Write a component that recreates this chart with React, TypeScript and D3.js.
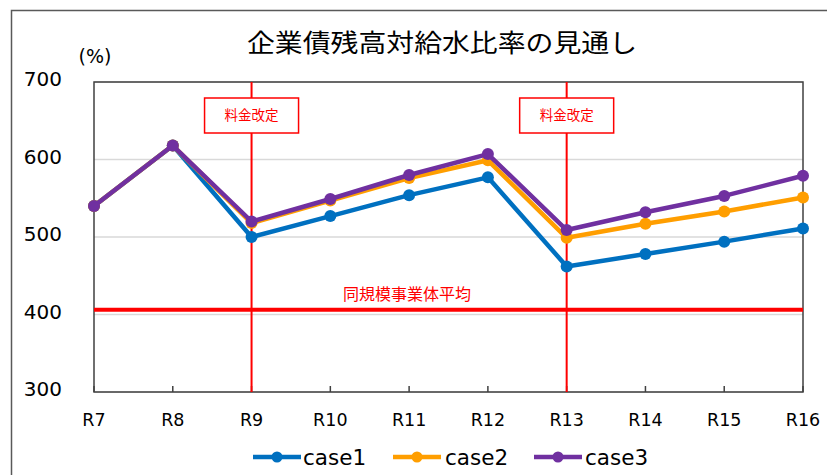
import React from "react";
import * as d3 from "d3";

const categories = ["R7", "R8", "R9", "R10", "R11", "R12", "R13", "R14", "R15", "R16"];
const case1 = [540, 618, 500, 527, 554, 577, 462, 478, 494, 511];
const case2 = [540, 618, 518, 547, 576, 599, 499, 517, 533, 551];
const case3 = [540, 618, 520, 549, 580, 607, 509, 532, 553, 579];
const seriesNames = ["case1", "case2", "case3"];
const seriesColors = ["#0070C0", "#FF9E00", "#7030A0"];
const yTicks = [300, 400, 500, 600, 700];
const averageValue = 406;
const averageLabel = "同規模事業体平均";
const revisionCategories = ["R9", "R13"];
const revisionLabel = "料金改定";
const title = "企業債残高対給水比率の見通し";
const unitLabel = "(%)";

const W = 827;
const H = 475;
const plot = { left: 94, right: 803, top: 82, bottom: 392 };

export default function App() {
  const x = d3.scalePoint<string>().domain(categories).range([plot.left, plot.right]);
  const y = d3.scaleLinear().domain([300, 700]).range([plot.bottom, plot.top]);
  const line = d3
    .line<number>()
    .x((_, i) => x(categories[i]) as number)
    .y((d) => y(d));
  const allSeries = [case1, case2, case3];
  const fontLatin = "'DejaVu Sans', Verdana, sans-serif";
  const fontCJK = "'Noto Sans CJK JP', sans-serif";

  const legendItems = [
    { x0: 253, tx: 303 },
    { x0: 393, tx: 445 },
    { x0: 534, tx: 585 },
  ];

  return (
    <svg
      width={W}
      height={H}
      style={{ position: "absolute", left: 0, top: 0, background: "#fff" }}
    >
      <rect x={0} y={0} width={W} height={H} fill="#fff" />
      {/* outer chart frame */}
      <path d={`M11.5,${H + 2} V10.5 H${W + 2}`} fill="none" stroke="#595959" strokeWidth={1.5} />
      {/* title */}
      <text
        x={442}
        y={52}
        textAnchor="middle"
        fontFamily={fontCJK}
        fontSize={25}
        textLength={390}
        lengthAdjust="spacingAndGlyphs"
        fill="#000"
      >
        {title}
      </text>
      <text x={95} y={63} textAnchor="middle" fontFamily={fontLatin} fontSize={19} fill="#000">
        {unitLabel}
      </text>
      {/* gridlines */}
      {yTicks.map((t) => (
        <line
          key={t}
          x1={plot.left}
          x2={plot.right}
          y1={y(t)}
          y2={y(t)}
          stroke="#d9d9d9"
          strokeWidth={1.5}
        />
      ))}
      {/* y tick labels */}
      {yTicks.map((t) => (
        <text
          key={"l" + t}
          x={62}
          y={y(t)}
          dy="0.2em"
          textAnchor="end"
          fontFamily={fontLatin}
          fontSize={20}
          fill="#000"
        >
          {t}
        </text>
      ))}
      {/* plot frame */}
      <rect
        x={plot.left}
        y={plot.top}
        width={plot.right - plot.left}
        height={plot.bottom - plot.top}
        fill="none"
        stroke="#404040"
        strokeWidth={1.5}
      />
      {/* x ticks */}
      {categories.map((c) => (
        <line
          key={"t" + c}
          x1={x(c)}
          x2={x(c)}
          y1={plot.bottom}
          y2={plot.bottom - 6}
          stroke="#404040"
          strokeWidth={1.5}
        />
      ))}
      {/* x labels */}
      {categories.map((c) => (
        <text
          key={"x" + c}
          x={x(c)}
          y={426}
          textAnchor="middle"
          fontFamily={fontLatin}
          fontSize={17.5}
          fill="#000"
        >
          {c}
        </text>
      ))}
      {/* average line */}
      <line
        x1={plot.left}
        x2={plot.right}
        y1={y(averageValue)}
        y2={y(averageValue)}
        stroke="#FF0000"
        strokeWidth={4}
      />
      <text
        x={407}
        y={300}
        textAnchor="middle"
        fontFamily={fontCJK}
        fontSize={16}
        fill="#FF0000"
      >
        {averageLabel}
      </text>
      {/* revision lines */}
      {revisionCategories.map((c) => (
        <g key={"r" + c}>
          <line
            x1={x(c)}
            x2={x(c)}
            y1={plot.top}
            y2={plot.bottom}
            stroke="#FF0000"
            strokeWidth={2}
          />
          <rect
            x={(x(c) as number) - 47}
            y={98}
            width={94}
            height={35}
            fill="#fff"
            stroke="#FF0000"
            strokeWidth={1.5}
          />
          <text
            x={x(c)}
            y={115.5}
            dy="0.35em"
            textAnchor="middle"
            fontFamily={fontCJK}
            fontSize={13.5}
            fill="#FF0000"
          >
            {revisionLabel}
          </text>
        </g>
      ))}
      {/* series */}
      {allSeries.map((s, si) => (
        <g key={"s" + si}>
          <path
            d={line(s) as string}
            fill="none"
            stroke={seriesColors[si]}
            strokeWidth={4.5}
            strokeLinejoin="round"
          />
          {s.map((v, i) => (
            <circle
              key={i}
              cx={x(categories[i])}
              cy={y(v)}
              r={6}
              fill={seriesColors[si]}
            />
          ))}
        </g>
      ))}
      {/* legend */}
      {seriesNames.map((n, i) => (
        <g key={"lg" + n}>
          <line
            x1={legendItems[i].x0}
            x2={legendItems[i].x0 + 48}
            y1={457}
            y2={457}
            stroke={seriesColors[i]}
            strokeWidth={4.5}
          />
          <circle cx={legendItems[i].x0 + 24} cy={457} r={5.5} fill={seriesColors[i]} />
          <text
            x={legendItems[i].tx}
            y={457}
            dy="0.35em"
            fontFamily={fontLatin}
            fontSize={21.5}
            fill="#000"
          >
            {n}
          </text>
        </g>
      ))}
    </svg>
  );
}
